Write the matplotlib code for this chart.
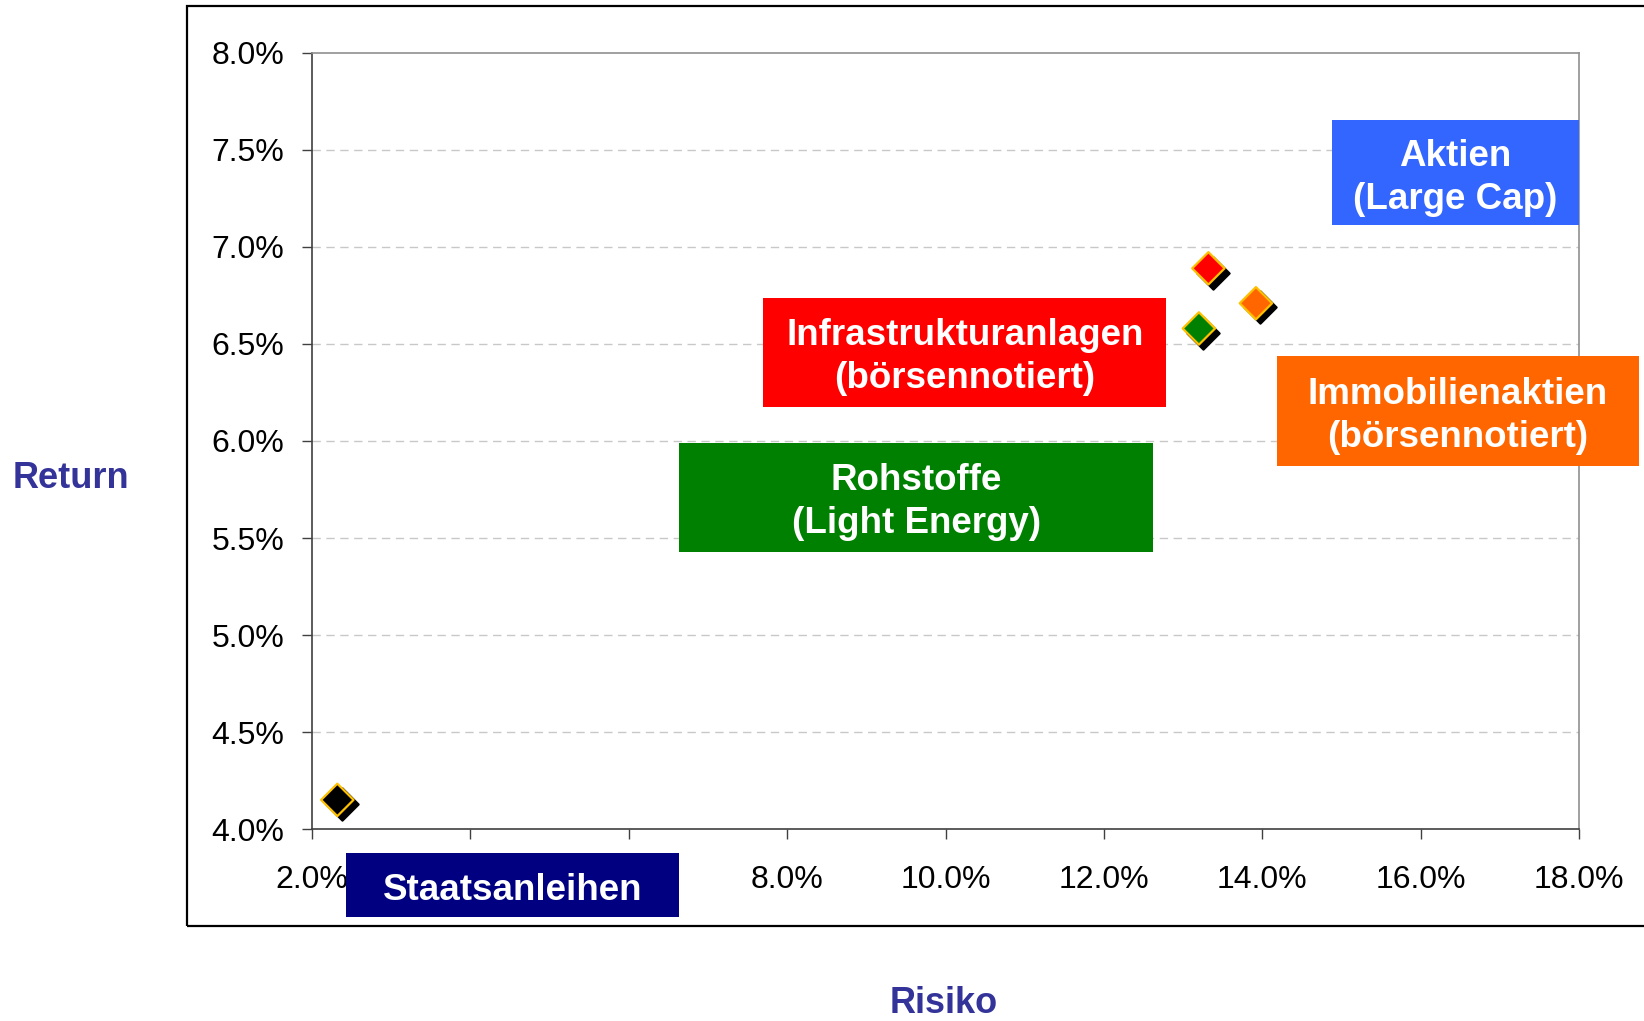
import matplotlib
matplotlib.use("Agg")
import matplotlib.pyplot as plt
from matplotlib.patches import Rectangle
from matplotlib.ticker import FuncFormatter
from matplotlib.transforms import offset_copy

plt.rcParams['font.family'] = ['Liberation Sans', 'DejaVu Sans']

# Data (percent)
names = ['Staatsanleihen', 'Rohstoffe', 'Infrastrukturanlagen', 'Immobilienaktien']
risk = [2.32, 13.20, 13.32, 13.92]
ret = [4.15, 6.58, 6.89, 6.71]
marker_colors = ['#000000', '#008000', '#FF0000', '#FF6600']

# Label boxes: text, colour, (x0, x1, y0, y1) in data units
labels = ['Aktien\n(Large Cap)', 'Infrastrukturanlagen\n(börsennotiert)',
          'Immobilienaktien\n(börsennotiert)', 'Rohstoffe\n(Light Energy)',
          'Staatsanleihen']
label_colors = ['#3366FF', '#FF0000', '#FF6600', '#008000', '#000080']
label_boxes = [(14.885, 18.0, 7.112, 7.653),
               (7.70, 12.79, 6.176, 6.739),
               (14.18, 18.755, 5.873, 6.436),
               (6.64, 12.62, 5.429, 5.992),
               (2.424, 6.64, 3.545, 3.876)]

xticks = [2, 4, 6, 8, 10, 12, 14, 16, 18]
yticks = [4.0, 4.5, 5.0, 5.5, 6.0, 6.5, 7.0, 7.5, 8.0]
hidden_xticks = [4, 6]  # covered by the Staatsanleihen box in the original

fig = plt.figure(figsize=(16.44, 10.21), dpi=100)
ax = fig.add_axes([312/1644, 1-829/1021, (1579-312)/1644, (829-53)/1021])

# Outer frame
fig.patches.append(Rectangle((187/1644, 1-926/1021), 1.0, (926-6)/1021,
                             transform=fig.transFigure, fill=False,
                             edgecolor='black', linewidth=1.6, zorder=0))

ax.set_xlim(2, 18)
ax.set_ylim(4, 8)
ax.set_xticks(xticks)
ax.set_yticks(yticks)
ax.set_xticklabels(['' if v in hidden_xticks else f'{v:.1f}%' for v in xticks])
ax.yaxis.set_major_formatter(FuncFormatter(lambda v, p: f'{v:.1f}%'))
ax.tick_params(axis='both', direction='out', length=7, width=1, colors='#404040',
               labelsize=23, labelcolor='black')
ax.tick_params(axis='y', pad=13)
ax.tick_params(axis='x', pad=19)

for y in yticks[1:-1]:
    ax.axhline(y, color='#C8C8C8', linestyle=(0, (6, 4)), linewidth=1.0, zorder=1)

for s in ['left', 'bottom']:
    ax.spines[s].set_color('#404040')
    ax.spines[s].set_linewidth(1.2)
for s in ['top', 'right']:
    ax.spines[s].set_color('#909090')
    ax.spines[s].set_linewidth(1.2)

# shadows
shadow_tr = offset_copy(ax.transData, fig=fig, x=3, y=-3, units='points')
ax.scatter(risk, ret, marker='D', s=16.5**2, color='black', edgecolors='black',
           linewidths=1.5, transform=shadow_tr, zorder=3, clip_on=False)
ax.scatter(risk, ret, marker='D', s=16.5**2, color=marker_colors,
           edgecolors='#FFC000', linewidths=1.6, zorder=4, clip_on=False)

text_tr = offset_copy(ax.transData, fig=fig, x=0, y=-3.5, units='points')
for txt, col, (x0, x1, y0, y1) in zip(labels, label_colors, label_boxes):
    ax.add_patch(Rectangle((x0, y0), x1-x0, y1-y0, facecolor=col, edgecolor='none',
                           zorder=6, clip_on=False))
    ax.text((x0+x1)/2, (y0+y1)/2, txt, ha='center', va='center', color='white',
            fontsize=26.5, fontweight='bold', linespacing=1.3, zorder=7,
            clip_on=False, transform=text_tr)

fig.text(71/1644, 1-479/1021, 'Return', ha='center', va='center', color='#333399',
         fontsize=26, fontweight='bold')
fig.text(944/1644, 1-1003/1021, 'Risiko', ha='center', va='center', color='#333399',
         fontsize=26, fontweight='bold')

fig.savefig('out.png', dpi=100, facecolor='white')
